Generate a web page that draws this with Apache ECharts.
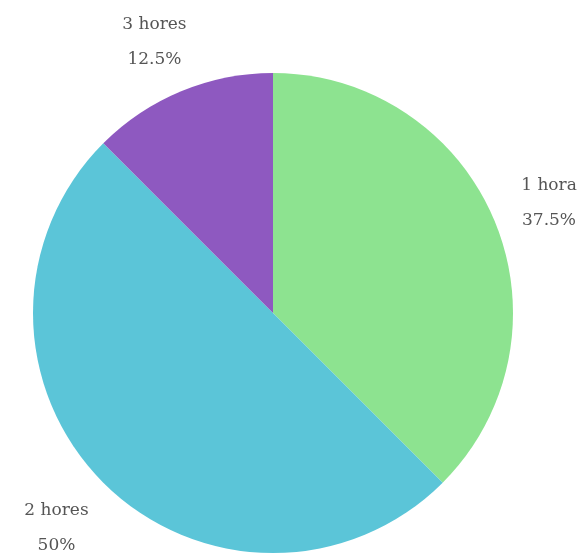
<!DOCTYPE html>
<html><head><meta charset="utf-8">
<script src="https://cdn.jsdelivr.net/npm/echarts@6/dist/echarts.min.js"></script>
<style>html,body{margin:0;padding:0;background:#fff}#c{width:581px;height:558px}</style>
</head><body><div id="c"></div>
<script>
var categories = ['1 hora', '2 hores', '3 hores'];
var values = [37.5, 50, 12.5];
var colors = ['#8de390', '#5bc5d8', '#8e59c0'];

var chart = echarts.init(document.getElementById('c'), null, {renderer: 'canvas'});
chart.setOption({
  animation: false,
  series: [{
    type: 'pie',
    center: [273, 313],
    radius: 240,
    startAngle: 90,
    clockwise: true,
    data: categories.map(function (c, i) {
      return {name: c, value: values[i], itemStyle: {color: colors[i]}};
    }),
    label: {
      show: true,
      position: 'outside',
      formatter: function (p) { return p.name + '\n' + p.value + '%'; },
      fontFamily: 'DejaVu Serif',
      fontSize: 17,
      color: '#555',
      lineHeight: 35,
      align: 'center',
      overflow: 'none',
      width: 200
    },
    labelLine: {show: false, length: 62, length2: 0},
    labelLayout: function (p) {
      var pts = p.labelLinePoints;
      if (!pts) return {};
      return {x: pts[1][0] - 3, y: pts[1][1] + 6, align: 'center', verticalAlign: 'middle'};
    }
  }]
});
</script></body></html>
